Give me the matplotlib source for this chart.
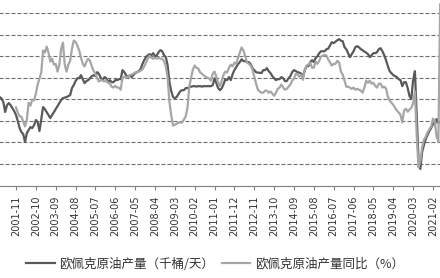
#!/usr/bin/env python

import matplotlib
matplotlib.use('Agg')
import matplotlib.pyplot as plt
from matplotlib.font_manager import FontProperties

# OPEC crude output, thousand barrels per day, monthly from 2001-01
OUTPUT_START = '2001-01'
output_kbd = [
    28290, 28200, 28060, 27730, 26810, 27450, 27640, 27450, 27180, 26900, 26530, 25970,  # 2001
    25320, 24950, 24770, 24030, 24860, 25140, 25420, 25320, 25600, 26070, 25880, 25050,  # 2002
    26160, 27270, 27080, 26810, 26530, 26250, 26530, 26810, 27080, 27360, 27640, 27920,  # 2003
    28100, 28150, 28200, 28290, 28380, 29030, 29310, 29680, 29950, 29950, 30230, 29860,  # 2004
    29490, 29680, 29770, 29950, 30140, 30230, 30140, 30510, 30330, 29950, 29770, 30050,  # 2005
    29950, 29580, 29770, 29580, 29580, 29770, 29770, 29860, 29860, 30700, 30510, 30230,  # 2006
    30050, 30230, 30050, 30230, 30420, 30510, 30600, 30790, 31250, 31620, 31900, 32080,  # 2007
    32180, 32080, 32270, 31990, 32080, 32360, 32550, 32450, 32080, 31900, 31160, 29580,  # 2008
    28750, 28200, 28100, 28200, 28470, 28750, 28840, 28840, 29030, 29030, 29120, 29170,  # 2009
    29210, 29210, 29170, 29210, 29210, 29170, 29210, 29210, 29210, 29210, 29210, 29310,  # 2010
    29950, 29490, 29030, 28840, 29030, 29400, 29860, 29770, 30050, 29770, 30330, 30700,  # 2011
    30970, 31250, 31440, 31710, 31530, 31530, 31440, 31440, 31250, 30880, 30700, 30510,  # 2012
    30460, 30460, 30420, 30700, 30700, 30880, 30600, 30420, 30140, 29950, 29770, 29860,  # 2013
    29860, 30050, 29950, 29680, 29680, 29950, 30140, 30510, 30700, 30600, 30510, 30460,  # 2014
    30370, 30140, 30700, 31070, 31070, 31440, 31620, 31440, 31810, 31990, 32270, 32450,  # 2015
    32450, 32450, 32640, 32690, 33010, 33290, 33200, 33330, 33470, 33570, 33430, 33380,  # 2016
    32820, 32640, 32270, 31900, 32180, 32450, 32820, 32920, 32820, 32640, 32550, 32410,  # 2017
    32320, 32180, 31900, 32080, 32270, 32270, 32360, 32640, 32730, 32450, 32080, 31620,  # 2018
    31070, 30600, 30420, 30230, 30140, 30050, 29860, 29770, 29210, 29580, 29580, 29030,  # 2019
    28290, 28010, 29770, 30600, 26530, 22360, 21530, 23100, 23750, 24310, 24680, 25050,  # 2020
    25320, 25790, 25600, 26160, 25790, 25880,                                            # 2021
]

# year on year change, %, monthly from 2001-11
YOY_START = '2001-11'
output_yoy = [
    -6.9, -8.1,                                                                # 2001
    -9.0, -9.0, -10.2, -11.3, -9.7, -5.8, -6.5, -5.1, -5.3, -3.7, -1.6, -0.2,  # 2002
    1.2, 6.3, 5.8, 7.2, 5.8, 3.7, 4.4, 3.0, 3.2, 1.4, 3.0, 6.7,                # 2003
    8.1, 3.0, 1.4, 3.0, 3.9, 6.7, 8.6, 8.3, 7.4, 6.3, 4.6, 3.2,                # 2004
    2.6, 3.7, 4.4, 3.9, 2.6, 1.6, 0.9, -0.2, -0.9, -0.5, -0.7, -0.9,           # 2005
    -0.7, -1.2, -1.4, -2.1, -2.3, -1.9, -2.3, -2.3, -2.8, 0.0, 0.2, 0.0,       # 2006
    0.2, 0.5, 0.7, 0.9, 1.2, 1.2, 1.4, 1.6, 1.9, 2.6, 3.5, 4.4,                # 2007
    5.1, 4.6, 4.4, 4.6, 4.4, 4.6, 4.4, 4.4, 3.9, 2.6, 0.0, -5.6,               # 2008
    -8.8, -11.1, -10.9, -10.7, -10.4, -10.4, -10.4, -9.7, -9.0, -7.0, -2.1, 0.0,  # 2009
    1.9, 2.8, 2.3, 2.1, 1.2, 0.9, 0.5, 0.2, 0.0, -0.2, -0.7, 0.9,              # 2010
    1.4, 0.2, -1.2, -1.9, -0.7, 0.7, 1.4, 1.2, 2.3, 3.0, 2.6, 3.5,             # 2011
    3.2, 4.6, 5.8, 7.0, 6.3, 4.9, 3.5, 3.2, 2.8, 1.9, 0.2, -1.4,               # 2012
    -2.8, -3.2, -3.5, -3.5, -3.0, -3.0, -3.5, -3.2, -3.7, -4.2, -3.5, -2.6,    # 2013
    -2.3, -1.6, -2.3, -2.8, -2.6, -2.1, -1.6, -0.7, -0.2, 0.9, 0.7, 0.2,       # 2014
    0.7, -0.5, 1.9, 2.8, 3.0, 3.5, 2.3, 2.3, 3.7, 3.2, 3.9, 4.9,               # 2015
    5.1, 5.3, 5.1, 4.2, 3.5, 2.8, 3.2, 3.2, 3.9, 3.5, 1.4, 0.7,                # 2016
    -0.7, -2.1, -2.1, -2.3, -2.6, -2.3, -2.8, -2.6, -2.8, -3.0, -3.5, -2.3,    # 2017
    -0.7, -1.2, -0.7, -1.4, -1.2, -1.9, -2.3, -1.4, -1.4, -2.3, -2.1, -2.5,    # 2018
    -4.4, -5.3, -5.8, -6.3, -7.0, -7.6, -8.1, -8.6, -10.4, -7.6, -7.2, -7.9,   # 2019
    -7.4, -7.0, -6.0, -3.2, -13.4, -20.8, -19.2, -16.2, -14.4, -13.7, -12.7, -12.0,  # 2020
    -11.3, -9.5, -10.0, -13.7, -14.8, 17.0,                                    # 2021
]

tick_labels = ['2000-12', '2001-11', '2002-10', '2003-09', '2004-08', '2005-07',
               '2006-06', '2007-05', '2008-04', '2009-03', '2010-02', '2011-01',
               '2011-12', '2012-11', '2013-10', '2014-09', '2015-08', '2016-07',
               '2017-06', '2018-05', '2019-04', '2020-03', '2021-02']

legend_labels = ['欧佩克原油产量（千桶/天）', '欧佩克原油产量同比（%）']

DARK = '#595959'
LIGHT = '#a6a6a6'


def MonthPos(label):
    # months counted from 2001-01
    y, m = label.split('-')
    return (int(y) - 2001) * 12 + int(m) - 1


def PlotOpec():
    fig = plt.figure(figsize=(4.4, 2.78), dpi=100)
    # plot area is cropped a little on the left, like the source image
    ax = fig.add_axes([-13.2 / 440, 92.5 / 278, 453.2 / 440, 185.5 / 278])
    ax2 = ax.twinx()

    x1 = [MonthPos(OUTPUT_START) + i for i in range(len(output_kbd))]
    x2 = [MonthPos(YOY_START) + i for i in range(len(output_yoy))]

    l1, = ax.plot(x1, output_kbd, color=DARK, lw=1.6, solid_joinstyle='round')
    l2, = ax2.plot(x2, output_yoy, color=LIGHT, lw=1.6, solid_joinstyle='round')

    ax.set_xlim(-6.18, 244.9)
    ax.set_ylim(20000, 37200)
    ax2.set_ylim(-25, 18)

    ax.set_yticks(range(22000, 37000, 2000))
    ax.yaxis.grid(True, linestyle=(0, (3.6, 1.8)), color='#6e6e6e', linewidth=0.8)
    ax.tick_params(axis='y', length=0, labelleft=False)
    ax2.tick_params(axis='y', length=0, labelright=False)
    ax2.set_yticks([])

    ax.set_xticks([MonthPos(t) for t in tick_labels])
    ax.set_xticklabels(tick_labels, rotation=90, fontsize=7, color='#333333')
    ax.tick_params(axis='x', direction='out', length=3, width=0.8, color='#808080', pad=4)

    for s in ['left', 'right', 'top']:
        ax.spines[s].set_visible(False)
        ax2.spines[s].set_visible(False)
    ax2.spines['bottom'].set_visible(False)
    ax.spines['bottom'].set_color('#808080')
    ax.spines['bottom'].set_linewidth(0.8)

    font = FontProperties(family=['Noto Sans CJK SC', 'DejaVu Sans'], size=9)
    leg = fig.legend([l1, l2], legend_labels, loc='center', bbox_to_anchor=(215 / 440, 1 - 264 / 278),
                     ncol=2, frameon=False, prop=font, handlelength=2.3, handletextpad=0.35,
                     columnspacing=0.6)
    for t in leg.get_texts():
        t.set_color('#333333')

    fig.savefig('out.png', dpi=100, facecolor='white')


def main():
    PlotOpec()


if __name__ == "__main__":
    main()
